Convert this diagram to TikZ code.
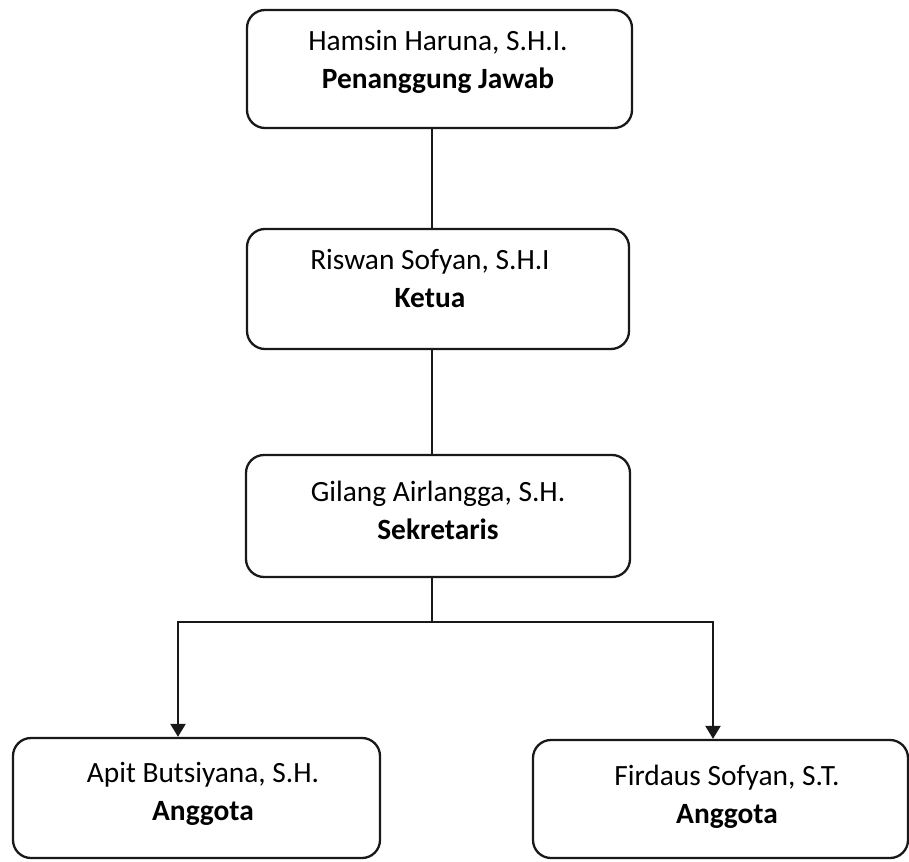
\documentclass[tikz,border=0pt]{standalone}
\usepackage{fontspec}
\setmainfont{Carlito}
\usetikzlibrary{arrows.meta}
\begin{document}
\begin{tikzpicture}[x=0.5pt,y=-0.5pt,
  box/.style={draw=black!90, line width=1.15pt, rounded corners=9pt, inner sep=0pt, fill=white},
  txt/.style={align=center, inner sep=0pt, font=\fontsize{14.7}{19}\selectfont},
  conn/.style={draw=black!90, line width=1.15pt},
  arr/.style={conn, -{Triangle[width=7.5pt,length=6.5pt]}}]
\fill[white] (0,0) rectangle (909,861);
\useasboundingbox (0,0) rectangle (909,861);
% boxes
\node[box, minimum width=192.5pt, minimum height=59pt] (b1) at (439.5,69) {};
\node[box, minimum width=191pt, minimum height=60pt] (b2) at (438,289) {};
\node[box, minimum width=192pt, minimum height=61pt] (b3) at (438,516) {};
\node[box, minimum width=183.5pt, minimum height=60pt] (b4) at (196.5,798) {};
\node[box, minimum width=187.5pt, minimum height=59pt] (b5) at (720.5,799) {};
% texts
\node[txt] (t1) at (438,61.5) {Hamsin Haruna, S.H.I.\\\textbf{Penanggung Jawab}};
\node[txt] (t2) at (430,278.5) {Riswan Sofyan, S.H.I\\\textbf{Ketua}};
\node[txt] (t3) at (438,510) {Gilang Airlangga, S.H.\\\textbf{Sekretaris}};
\node[txt] (t4) at (203,794) {Apit Butsiyana, S.H.\\\textbf{Anggota}};
\node[txt] (t5) at (727,797) {Firdaus Sofyan, S.T.\\\textbf{Anggota}};
% connectors
\coordinate (vx) at (432,0);
\coordinate (busL) at (178,622);
\coordinate (busR) at (713,622);
\draw[conn] (b1.south -| vx) -- (b2.north -| vx);
\draw[conn] (b2.south -| vx) -- (b3.north -| vx);
\draw[conn] (b3.south -| vx) -- (vx |- busL);
\draw[arr] (vx |- busL) -- (busL) -- (busL |- b4.north);
\draw[arr] (vx |- busR) -- (busR) -- (busR |- b5.north);
\end{tikzpicture}
\end{document}
